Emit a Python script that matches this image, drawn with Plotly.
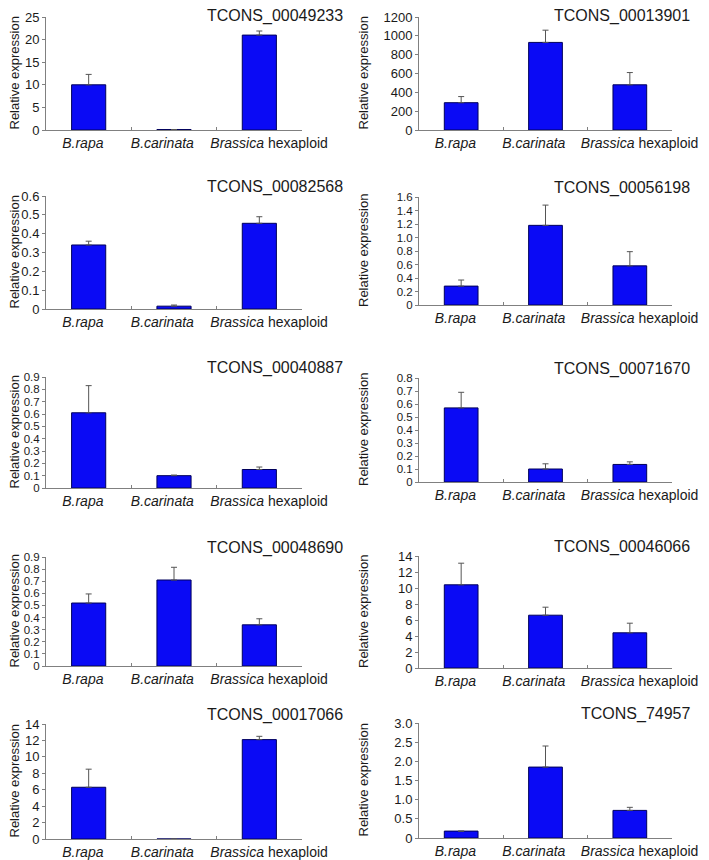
import plotly.graph_objects as go

# qPCR relative expression of ten transcripts in three Brassica lines
genes = ["TCONS_00049233", "TCONS_00013901", "TCONS_00082568", "TCONS_00056198",
         "TCONS_00040887", "TCONS_00071670", "TCONS_00048690", "TCONS_00046066",
         "TCONS_00017066", "TCONS_74957"]
species = ["B.rapa", "B.carinata", "Brassica hexaploid"]
# labels sit a little off-centre in the original, padded with no-break spaces
species_labels = ["<i>B.rapa</i>\u00a0\u00a0\u00a0",
                  "<i>B.carinata</i>\u00a0\u00a0\u00a0\u00a0\u00a0\u00a0",
                  "\u00a0\u00a0\u00a0\u00a0\u00a0<i>Brassica</i> hexaploid"]

rapa = [10, 290, 0.34, 0.28, 0.61, 0.57, 0.52, 10.4, 6.3, 0.18]
carinata = [0.1, 930, 0.015, 1.18, 0.10, 0.10, 0.71, 6.6, 0, 1.85]
hexaploid = [21, 480, 0.455, 0.58, 0.15, 0.135, 0.34, 4.4, 12.1, 0.72]
rapa_sd = [2.3, 65, 0.02, 0.09, 0.22, 0.12, 0.075, 2.7, 2.2, None]
carinata_sd = [None, 130, 0.006, 0.30, 0.005, 0.04, 0.105, 1.0, None, 0.55]
hexaploid_sd = [0.9, 130, 0.035, 0.21, 0.02, 0.02, 0.05, 1.2, 0.4, 0.08]

y_max = [25, 1200, 0.6, 1.6, 0.9, 0.8, 0.9, 14, 14, 3.0]
y_step = [5, 200, 0.1, 0.2, 0.1, 0.1, 0.1, 2, 2, 0.5]
y_decimals = [0, 0, 1, 1, 1, 1, 1, 0, 0, 1]

# layout in page pixels; the page body adds an 8px margin round the figure
W, H = 709, 860
OFF = 8
col_x = [(46, 302), (419, 672)]
rows_left = [(17, 130), (196, 309), (377, 488), (557, 666), (724, 839)]
rows_right = [(17, 130), (197, 305), (378, 482), (556, 668), (723, 838)]
title_right = [345, 692]
ytitle_x = [14, 363]


def px(p):
    return (p - OFF) / W


def py(p):
    return 1 - (p - OFF) / H


AXIS = "#808080"
TEXT = "#1a1a1a"
FONT = "Liberation Sans, Arial, sans-serif"

fig = go.Figure()
annotations = []
layout = {}

for i, gene in enumerate(genes):
    col = i % 2
    row = i // 2
    top, zero = (rows_left if col == 0 else rows_right)[row]
    x0, x1 = col_x[col]
    n = i + 1
    xa = "x" if n == 1 else f"x{n}"
    ya = "y" if n == 1 else f"y{n}"

    errs = [rapa_sd[i], carinata_sd[i], hexaploid_sd[i]]
    fig.add_trace(go.Bar(
        x=species,
        y=[rapa[i], carinata[i], hexaploid[i]],
        xaxis=xa, yaxis=ya,
        width=0.4,
        marker=dict(color="#0a0af5", line=dict(color="#00005a", width=1)),
        error_y=dict(type="data", symmetric=False, array=errs,
                     arrayminus=[None if e is None else 0 for e in errs],
                     color="#555555", thickness=1, width=3),
        showlegend=False,
    ))

    nt = round(y_max[i] / y_step[i])
    tv = [k * y_step[i] for k in range(nt + 1)]
    tt = ["0" if k == 0 else f"{v:.{y_decimals[i]}f}" for k, v in enumerate(tv)]

    layout["xaxis" if n == 1 else f"xaxis{n}"] = dict(
        domain=[px(x0), px(x1)], anchor=ya, type="category", automargin=False,
        range=[-0.5, 2.5], tickmode="array", tickvals=species, ticktext=species_labels,
        tickson="boundaries", ticks="inside", ticklen=3, tickcolor=AXIS,
        tickangle=0,
        showline=True, linecolor=AXIS, linewidth=1, showgrid=False,
        tickfont=dict(size=14, color=TEXT), fixedrange=True,
    )
    layout["yaxis" if n == 1 else f"yaxis{n}"] = dict(
        domain=[py(zero), py(top)], anchor=xa, automargin=False,
        range=[0, y_max[i]], tickmode="array", tickvals=tv, ticktext=tt,
        ticks="outside", ticklen=3, tickcolor=AXIS,
        showline=True, linecolor=AXIS, linewidth=1, showgrid=False, zeroline=False,
        tickfont=dict(size=11.5 if nt >= 8 else 13, color=TEXT), fixedrange=True,
    )

    annotations.append(dict(
        text=gene, xref="paper", yref="paper",
        x=px(title_right[col]), y=py(max(top - 9, OFF + 8)),
        xanchor="right", yanchor="middle", showarrow=False,
        font=dict(size=16, color=TEXT),
    ))
    annotations.append(dict(
        text="Relative expression", xref="paper", yref="paper",
        x=px(ytitle_x[col]), y=py((top + zero) / 2),
        xanchor="center", yanchor="middle", textangle=-90, showarrow=False,
        font=dict(size=13, color=TEXT),
    ))

fig.update_layout(
    width=W, height=H,
    margin=dict(l=0, r=0, t=0, b=0, pad=0),
    paper_bgcolor="white", plot_bgcolor="white",
    font=dict(family=FONT, color=TEXT),
    annotations=annotations,
    **layout,
)

fig.write_html("out.html")
